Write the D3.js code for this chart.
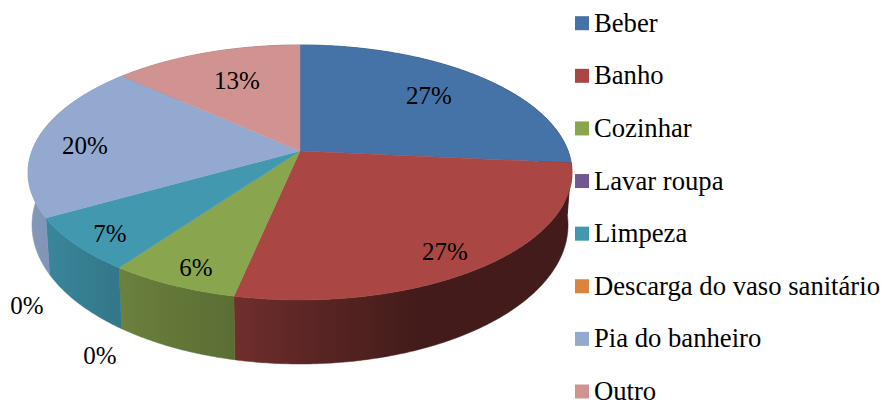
<!DOCTYPE html>
<html>
<head>
<meta charset="utf-8">
<script src="https://cdn.jsdelivr.net/npm/d3@7"></script>
<style>html,body{margin:0;padding:0;background:#fff}svg{display:block}</style>
</head>
<body>
<svg id="chart" width="883" height="403"></svg>
<script>
const categories = ["Beber","Banho","Cozinhar","Lavar roupa","Limpeza","Descarga do vaso sanitário","Pia do banheiro","Outro"];
const values = [26.5,26.8,6.6,0,6.85,0,20,13.25];
const valueLabels = ["27%","27%","6%","0%","7%","0%","20%","13%"];
const colors = ["#4572A7","#AA4643","#89A54E","#71588F","#4198AF","#DB843D","#93A9CF","#D19392"];

// layout
const W = 883, H = 403;
const labelPos = [[429,95],[445,251],[196,267],[27,305],[110,233],[100,355],[85,145],[237,80]];
const topFace = {x:300, y:151, a:123.9, c:268.1};
const bottomFace = {x:300, y:201.6, a:135, c:264.2};
const k = -0.1686;
const fontFamily = '"Liberation Serif","Times New Roman",serif';

const svg = d3.select("#chart");
const defs = svg.append("defs");

const arcs = d3.pie().sort(null).value(d => d)(values);

// perspective projection of a point on the unit disc
function project(face, theta, r = 1) {
  const u = r * Math.sin(theta), v = -r * Math.cos(theta), w = 1 + k * v;
  return [face.x + face.c * u / w, face.y + face.a * v / w];
}
function rim(face, a0, a1) {
  const n = Math.max(2, Math.ceil((a1 - a0) / 0.01));
  return d3.range(n + 1).map(i => project(face, a0 + (a1 - a0) * i / n));
}
const line = d3.line();

// wall brightness by horizontal position
const shade = d3.scaleLinear().domain([30,120,235,300,420,575]).range([.9,.78,.66,.55,.39,.39]);
const stopsX = d3.range(30, 576, 15);
const xNorm = d3.scaleLinear().domain([30,575]).range([0,1]);
colors.forEach((c, i) => {
  const g = defs.append("linearGradient").attr("id", "wall" + i)
    .attr("gradientUnits", "userSpaceOnUse")
    .attr("x1", 30).attr("x2", 575).attr("y1", 0).attr("y2", 0);
  stopsX.forEach(x => {
    const col = d3.rgb(c);
    const s = shade(x);
    g.append("stop").attr("offset", xNorm(x))
      .attr("stop-color", d3.rgb(col.r * s, col.g * s, col.b * s).formatHex());
  });
});

// walls, back to front
const wallOrder = arcs.map((d, i) => i).filter(i => arcs[i].endAngle > arcs[i].startAngle);
svg.append("g").selectAll("path").data(wallOrder).join("path")
  .attr("d", i => {
    const d = arcs[i];
    const t = rim(topFace, d.startAngle, d.endAngle);
    const b = rim(bottomFace, d.startAngle, d.endAngle).reverse();
    return line(t.concat(b)) + "Z";
  })
  .attr("fill", i => `url(#wall${i})`)
  .attr("stroke", i => `url(#wall${i})`).attr("stroke-width", 0.5);

// top face
svg.append("g").selectAll("path").data(wallOrder).join("path")
  .attr("d", i => {
    const d = arcs[i];
    return line([[topFace.x, topFace.y]].concat(rim(topFace, d.startAngle, d.endAngle))) + "Z";
  })
  .attr("fill", i => colors[i])
  .attr("stroke", i => colors[i]).attr("stroke-width", 0.4);

// value labels
svg.append("g").selectAll("text").data(valueLabels).join("text")
  .attr("x", (d, i) => labelPos[i][0])
  .attr("y", (d, i) => labelPos[i][1])
  .attr("dy", "0.34em")
  .attr("text-anchor", "middle")
  .attr("font-family", fontFamily).attr("font-size", 25).attr("fill", "#000")
  .text(d => d);

// legend
const legendY = d3.scalePoint().domain(categories).range([23.2, 391.5]);
const legend = svg.append("g").selectAll("g").data(categories).join("g")
  .attr("transform", d => `translate(0,${legendY(d)})`);
legend.append("rect").attr("x", 575).attr("y", -7).attr("width", 14).attr("height", 14)
  .attr("fill", (d, i) => colors[i]);
legend.append("text").attr("x", 594).attr("y", 8.5)
  .attr("font-family", fontFamily).attr("font-size", 26.67).attr("fill", "#000")
  .text(d => d);
</script>
</body>
</html>
